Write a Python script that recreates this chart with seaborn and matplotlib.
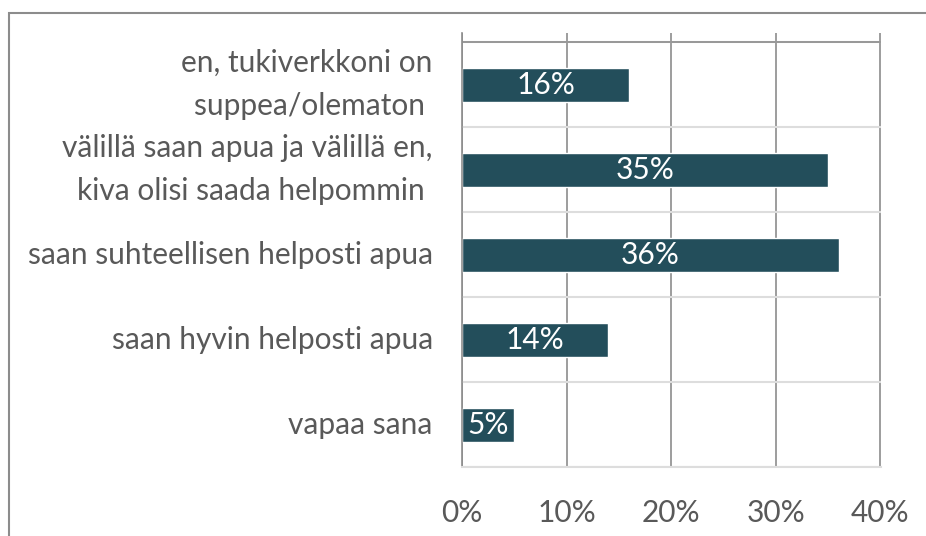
import numpy as np
import seaborn as sns
import matplotlib.pyplot as plt
import pandas as pd
from matplotlib.patches import Rectangle

# Vastausvaihtoehdot ja osuudet (%)
kategoriat = [
    "en, tukiverkkoni on\nsuppea/olematon ",
    "välillä saan apua ja välillä en,\nkiva olisi saada helpommin ",
    "saan suhteellisen helposti apua",
    "saan hyvin helposti apua",
    "vapaa sana",
]
osuudet = [16, 35, 36, 14, 5]
x_tikit = [0, 10, 20, 30, 40]

dados = pd.DataFrame({"kategoria": kategoriat, "osuus": osuudet})

sns.set_style("white")
plt.rcParams["font.family"] = ["Lato", "DejaVu Sans"]

palkki_vari = "#234E5B"
teksti_vari = "#595959"
viiva_tumma = "#8C8C8C"
viiva_vaalea = "#DDDDDD"
koko = 21.5

fig = plt.figure(figsize=(9.26, 5.36), dpi=100)
ax = fig.add_axes([462 / 926, 1 - 467 / 536, (881 - 462) / 926, (467 - 33) / 536])

sns.barplot(data=dados, x="osuus", y="kategoria", color=palkki_vari,
            width=0.4, orient="h", ax=ax, saturation=1)

# Arvot palkkien sisään
for i, v in enumerate(osuudet):
    ax.text(v / 2, i, f"{v}%", color="white", ha="center", va="center",
            fontsize=koko, clip_on=True)

ax.set_xlim(0, 40.05)
ax.set_ylim(4.5, -0.606)
ax.set_xticks(x_tikit)
ax.set_xticklabels([f"{t}%" for t in x_tikit])
ax.set_xlabel("")
ax.set_ylabel("")

# Rajaviivat kategorioiden välissä
rajat = np.arange(-0.5, len(kategoriat), 1.0)
ax.set_yticks(rajat, minor=True)
ax.tick_params(axis="y", which="major", length=0, pad=21, labelsize=koko,
               labelcolor=teksti_vari)
ax.tick_params(axis="y", which="minor", length=7.2, width=1, color=viiva_tumma,
               direction="out")
ax.tick_params(axis="x", which="major", length=0, pad=23, labelsize=koko,
               labelcolor=teksti_vari)

ax.grid(axis="x", color=viiva_tumma, linewidth=1.2)
ax.grid(axis="y", which="minor", color=viiva_vaalea, linewidth=1.5)
ax.axhline(-0.5, color=viiva_tumma, linewidth=1.2)
ax.set_axisbelow(True)

for s in ["top", "right"]:
    ax.spines[s].set_visible(False)
ax.spines["left"].set_color(viiva_tumma)
ax.spines["left"].set_linewidth(1.2)
ax.spines["bottom"].set_color(viiva_vaalea)
ax.spines["bottom"].set_linewidth(1.5)

for lbl in ax.get_yticklabels():
    lbl.set_multialignment("right")
    lbl.set_verticalalignment("center")
    lbl.set_linespacing(1.65)

# Kaavion reunus
fig.patches.append(Rectangle((9 / 926, -0.05), 1.0, 1 - 13 / 536 + 0.05,
                             transform=fig.transFigure, fill=False,
                             edgecolor=viiva_tumma, linewidth=1.5))

plt.savefig("out.png", dpi=100)
